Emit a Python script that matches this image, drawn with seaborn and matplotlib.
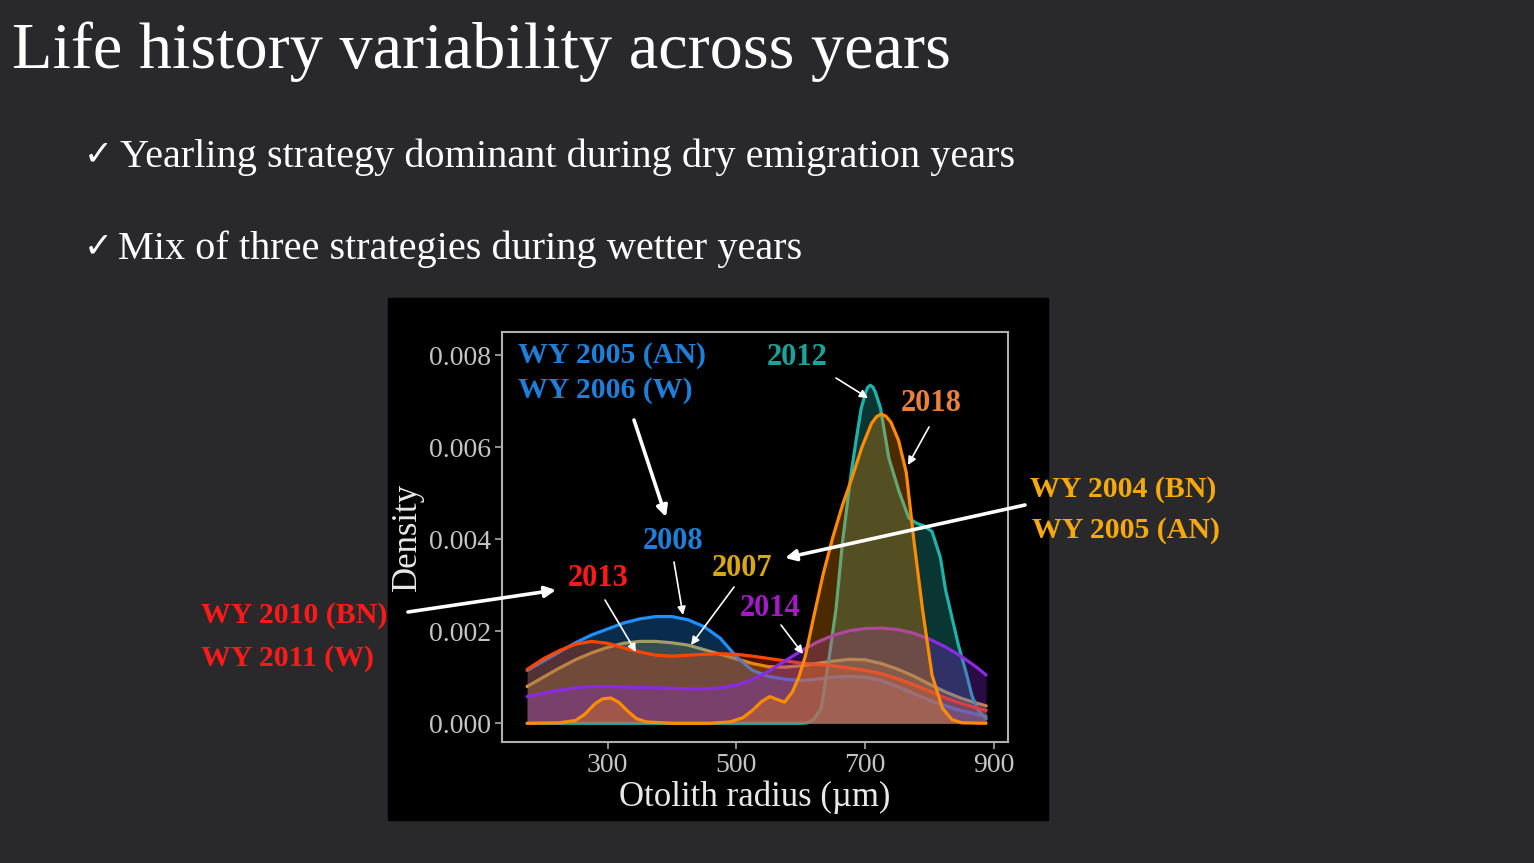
import numpy as np
import pandas as pd
import matplotlib
matplotlib.use("Agg")
import matplotlib.pyplot as plt
import seaborn as sns
from matplotlib.patches import Rectangle

# ---- data (density x 1e-3) ----
years = ["2007", "2008", "2012", "2013", "2014", "2018"]

radius = [175, 200, 225, 250, 275, 300, 325, 350, 375, 400, 425, 450, 475, 500,
          525, 550, 575, 600, 625, 650, 675, 700, 725, 750, 775, 800, 825, 850,
          875, 888]

dens_2007 = [0.80, 1.00, 1.20, 1.38, 1.53, 1.65, 1.74, 1.78, 1.78, 1.75, 1.70,
             1.60, 1.50, 1.40, 1.30, 1.23, 1.22, 1.25, 1.30, 1.35, 1.39, 1.38,
             1.30, 1.18, 1.03, 0.85, 0.68, 0.54, 0.43, 0.38]
dens_2008 = [1.15, 1.35, 1.55, 1.75, 1.92, 2.05, 2.18, 2.27, 2.32, 2.32, 2.25,
             2.10, 1.85, 1.45, 1.15, 1.02, 0.96, 0.93, 0.96, 1.00, 1.02, 1.00,
             0.93, 0.80, 0.65, 0.50, 0.38, 0.27, 0.19, 0.15]
dens_2013 = [1.17, 1.40, 1.58, 1.72, 1.78, 1.74, 1.64, 1.55, 1.48, 1.46, 1.48,
             1.50, 1.51, 1.50, 1.46, 1.41, 1.36, 1.31, 1.28, 1.25, 1.20, 1.15,
             1.08, 0.97, 0.84, 0.70, 0.55, 0.43, 0.33, 0.28]
dens_2014 = [0.58, 0.65, 0.72, 0.77, 0.80, 0.80, 0.79, 0.78, 0.77, 0.76, 0.75,
             0.75, 0.77, 0.83, 0.95, 1.13, 1.35, 1.57, 1.76, 1.91, 2.01, 2.06,
             2.07, 2.04, 1.96, 1.83, 1.66, 1.45, 1.20, 1.05]

radius_2012 = [175, 400, 600, 610, 620, 632, 644, 655, 665, 678, 686, 694, 701,
               704, 708, 712, 716, 724, 737, 753, 768, 780, 790, 804, 817, 825,
               835, 845, 857, 866, 875, 888]
dens_2012 = [0.0, 0.0, 0.0, 0.01, 0.08, 0.33, 1.41, 2.50, 3.95, 5.40, 6.15,
             6.85, 7.20, 7.30, 7.35, 7.31, 7.20, 6.85, 5.76, 5.03, 4.46, 4.35,
             4.30, 4.17, 3.60, 2.90, 2.30, 1.70, 1.10, 0.60, 0.30, 0.10]

radius_2018 = [175, 225, 250, 265, 280, 292, 305, 318, 330, 345, 360, 400, 460,
               490, 510, 525, 540, 552, 563, 575, 587, 597, 607, 620, 635, 650,
               665, 680, 695, 710, 718, 725, 732, 740, 752, 764, 776, 789, 804,
               820, 835, 850, 888]
dens_2018 = [0.0, 0.01, 0.06, 0.20, 0.42, 0.53, 0.55, 0.45, 0.28, 0.10, 0.03,
             0.0, 0.0, 0.03, 0.12, 0.28, 0.48, 0.58, 0.52, 0.46, 0.68, 1.00,
             1.45, 2.30, 3.25, 4.05, 4.75, 5.35, 6.00, 6.52, 6.67, 6.72, 6.68,
             6.55, 6.15, 5.45, 3.95, 2.50, 1.05, 0.33, 0.08, 0.01, 0.0]

series = {
    "2007": (radius, dens_2007),
    "2008": (radius, dens_2008),
    "2012": (radius_2012, dens_2012),
    "2013": (radius, dens_2013),
    "2014": (radius, dens_2014),
    "2018": (radius_2018, dens_2018),
}
line_colors = {"2007": "#DAA520", "2008": "#1E90FF", "2012": "#20B2AA",
               "2013": "#FF4500", "2014": "#8A2BE2", "2018": "#FF8C00"}

W, H = 1534, 863


def fx(px):
    return px / W


def fy(py):
    return 1 - py / H


sns.set_style("dark")
plt.rcParams["font.family"] = ["Liberation Serif", "DejaVu Sans"]

fig = plt.figure(figsize=(W / 100, H / 100), dpi=100)
fig.patch.set_facecolor("#29292b")
# black panel holding the chart
fig.patches.append(Rectangle((fx(388), fy(820)), fx(1048) - fx(388), fy(298) - fy(820),
                             transform=fig.transFigure, color="black", zorder=-5))

ax = fig.add_axes([fx(502), fy(742), fx(1008) - fx(502), fy(332) - fy(742)])
ax.set_facecolor("black")

for i, yr in enumerate(years):
    xs, ds = series[yr]
    df = pd.DataFrame({"radius": xs, "density": np.array(ds) / 1000})
    ax.fill_between(df["radius"], df["density"], color=line_colors[yr], alpha=0.3,
                    lw=0, zorder=2 + 2 * i)
    sns.lineplot(data=df, x="radius", y="density", color=line_colors[yr], lw=2.3,
                 ax=ax, zorder=3 + 2 * i)

ax.set_xlim(136, 922)
ax.set_ylim(-0.000407, 0.008507)
ax.set_xticks([300, 500, 700, 900])
ax.set_yticks([0, 0.002, 0.004, 0.006, 0.008])
ax.set_yticklabels(["0.000", "0.002", "0.004", "0.006", "0.008"])
ax.grid(False)
ax.tick_params(axis="both", colors="#a8a8a8", labelcolor="#c4c4c4", labelsize=20,
               length=5, width=1.2, direction="out", left=True, bottom=True, pad=3)
for s in ax.spines.values():
    s.set_visible(True)
    s.set_color("#b0b0b0")
    s.set_linewidth(1.5)
ax.set_xlabel("")
ax.set_ylabel("")

fig.text(fx(407), fy(537), "Density", rotation=90, color="#e8e8e8", fontsize=25,
         ha="center", va="center")
fig.text(fx(755), fy(797), "Otolith radius (µm)", color="#e8e8e8", fontsize=25,
         ha="center", va="center")

# slide text
fig.text(fx(12), fy(68), "Life history variability across years", color="white",
         fontsize=47.7, ha="left", va="baseline")
fig.text(fx(84), fy(164), "✓", color="white", fontsize=25, ha="left", va="baseline")
fig.text(fx(120), fy(167), "Yearling strategy dominant during dry emigration years",
         color="white", fontsize=29, ha="left", va="baseline")
fig.text(fx(84), fy(256), "✓", color="white", fontsize=25, ha="left", va="baseline")
fig.text(fx(118), fy(259), "Mix of three strategies during wetter years",
         color="white", fontsize=29, ha="left", va="baseline")

bold = dict(fontweight="bold", ha="center", va="center")
wy = dict(fontsize=21.5, fontweight="bold", ha="left", va="center")
fig.text(fx(518), fy(355), "WY 2005 (AN)", color="#1f7fd8", **wy)
fig.text(fx(518), fy(391), "WY 2006 (W)", color="#1f7fd8", **wy)
fig.text(fx(1030), fy(489), "WY 2004 (BN)", color="#f5a90f", **wy)
fig.text(fx(1032), fy(530), "WY 2005 (AN)", color="#f5a90f", **wy)
fig.text(fx(201), fy(615), "WY 2010 (BN)", color="#ff1a1a", **wy)
fig.text(fx(201), fy(658), "WY 2011 (W)", color="#ff1a1a", **wy)

fig.text(fx(797), fy(357), "2012", color="#1aa39b", fontsize=22, **bold)
fig.text(fx(931), fy(403), "2018", color="#e8803e", fontsize=22, **bold)
fig.text(fx(673), fy(541), "2008", color="#1f7fd8", fontsize=22, **bold)
fig.text(fx(742), fy(568), "2007", color="#d9a710", fontsize=22, **bold)
fig.text(fx(598), fy(578), "2013", color="#ff1a1a", fontsize=22, **bold)
fig.text(fx(770), fy(609), "2014", color="#a21cc4", fontsize=22, **bold)


def arrow(x1, y1, x2, y2, lw=1.2, ms=12):
    ax.annotate("", xy=(fx(x2), fy(y2)), xytext=(fx(x1), fy(y1)),
                xycoords="figure fraction", textcoords="figure fraction",
                annotation_clip=False, zorder=30,
                arrowprops=dict(arrowstyle="-|>", color="white", lw=lw,
                                mutation_scale=ms, shrinkA=0, shrinkB=0))


arrow(836, 378, 868, 398)
arrow(929, 427, 908, 465)
arrow(674, 562, 683, 615)
arrow(734, 587, 691, 645)
arrow(605, 600, 636, 652)
arrow(781, 625, 803, 654)
arrow(634, 420, 666, 517, lw=2.6, ms=16)
arrow(1025, 505, 785, 558, lw=2.6, ms=16)
arrow(408, 612, 556, 590, lw=2.6, ms=16)

fig.savefig("out.png", dpi=100, facecolor=fig.get_facecolor())
